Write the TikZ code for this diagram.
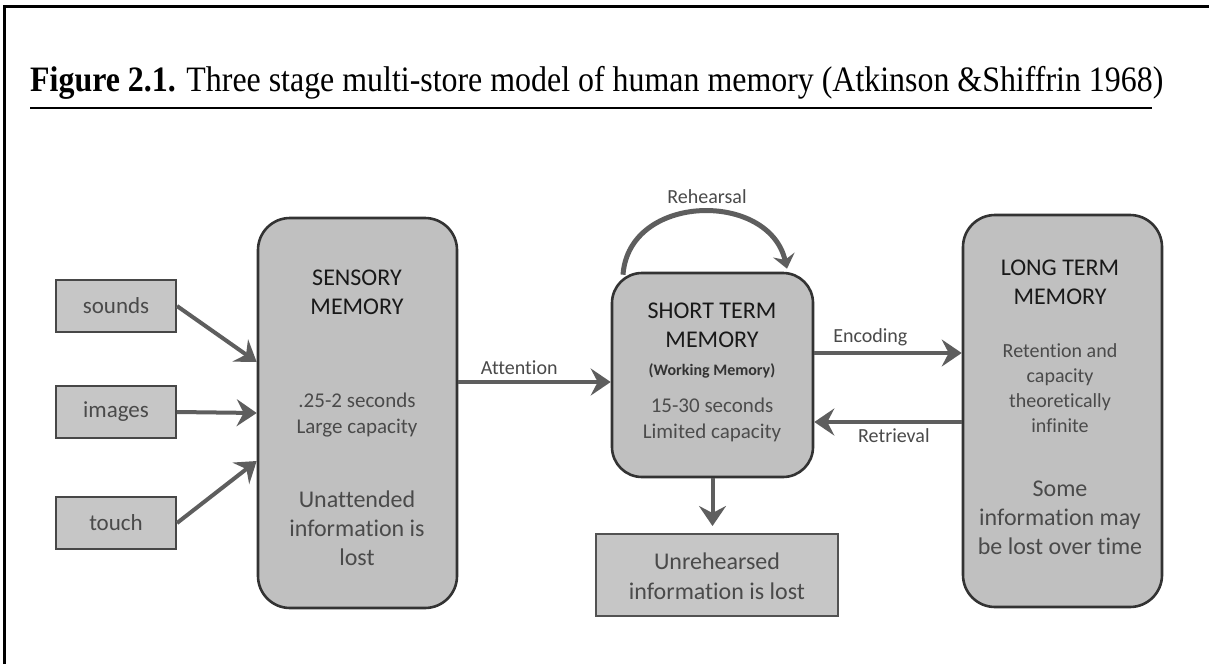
\documentclass[tikz,border=0pt]{standalone}
\usepackage{fontspec}
\setmainfont{Carlito}[Ligatures=NoCommon]
\newfontfamily\titlefont{Liberation Serif}
\usetikzlibrary{arrows.meta}
\definecolor{boxfill}{HTML}{C0C0C0}
\definecolor{smallfill}{HTML}{C6C6C6}
\definecolor{boxline}{HTML}{333333}
\definecolor{arrowgray}{HTML}{5E5E5E}
\definecolor{textgray}{HTML}{4A4A4A}
\tikzset{
  bigbox/.style={draw=boxline, fill=boxfill, line width=2.6pt, rounded corners=32pt, inner sep=0pt},
  inbox/.style={draw=boxline!90, fill=smallfill, line width=2pt, inner sep=0pt, minimum width=120pt, minimum height=52pt, font=\fontsize{23}{28}\selectfont, text=textgray},
  heading/.style={align=center, font=\fontsize{24}{29}\selectfont, text=black!90},
  graytext/.style={align=center, text=textgray},
  arr/.style={draw=arrowgray, line width=4pt, -{Stealth[length=20pt,width=27pt,inset=7pt]}},
  lbl/.style={font=\fontsize{20}{24}\selectfont, text=textgray, inner sep=3pt}
}
\begin{document}
\begin{tikzpicture}[x=1pt,y=-1pt]
\useasboundingbox (0,0) rectangle (1209,664);
\fill[white] (0,0) rectangle (1209,664);
% frame
\draw[line width=3pt] (4,664) -- (4,6) -- (1209,6);
% title
\node[anchor=base west, inner sep=0pt] (title) at (30,91) {\scalebox{1}[1.12]{\resizebox{1133pt}{!}{\titlefont\fontsize{28}{32}\selectfont\textbf{Figure 2.1.} Three stage multi-store model of human memory (Atkinson \&Shiffrin 1968)}}};
\draw[line width=2.5pt] (30,108) -- (1152,108);

% boxes
\node[bigbox, minimum width=199pt, minimum height=390pt] (sens) at (357.5,413) {};
\node[bigbox, minimum width=201pt, minimum height=204pt, rounded corners=30pt] (stm) at (712.5,375) {};
\node[bigbox, minimum width=199pt, minimum height=392pt] (ltm) at (1062.5,411) {};
\node[draw=boxline!85, fill=smallfill, line width=2pt, inner sep=0pt, minimum width=242pt, minimum height=82pt] (unr) at (717,575) {};

\node[inbox] (sounds) at (116,306) {sounds};
\node[inbox] (images) at (116,412) {images};
\node[inbox] (touch) at (116,523) {touch};

% texts in sensory
\node[heading] (senshead) at (357,292) {SENSORY\\MEMORY};
\node[graytext, font=\fontsize{21}{26}\selectfont] (senstime) at (357,415) {.25-2 seconds\\Large capacity};
\node[graytext, font=\fontsize{24}{29}\selectfont] (senslost) at (357,528) {Unattended\\information is\\lost};

% texts in STM
\node[heading] (stmhead) at (712,325) {SHORT TERM\\MEMORY};
\node[font=\bfseries\fontsize{16}{19}\selectfont, text=black!80] (stmwork) at (712,371) {(Working Memory)};
\node[graytext, font=\fontsize{21}{26}\selectfont, text=black!70] (stmtime) at (712,420) {15-30 seconds\\Limited capacity};

% texts in LTM
\node[heading] (ltmhead) at (1060,282) {LONG TERM\\MEMORY};
\node[graytext, font=\fontsize{20}{25}\selectfont] (ltmret) at (1060,388) {Retention and\\capacity\\theoretically\\infinite};
\node[graytext, font=\fontsize{24}{29}\selectfont] (ltmlost) at (1060,518) {Some\\information may\\be lost over time};

% unrehearsed text
\node[graytext, font=\fontsize{24}{30}\selectfont] (unrtext) at (717,576) {Unrehearsed\\information is lost};

% input arrows
\draw[arr] (sounds.east) -- ([yshift=51pt]sens.west);
\draw[arr] (images.east) -- (sens.west);
\draw[arr] (touch.east) -- ([yshift=-48pt]sens.west);

% attention
\coordinate (attend) at ([yshift=-7pt]stm.west);
\draw[arr] (sens.east |- attend) -- (attend) node[lbl, pos=0.4, above=2pt] {Attention};

% encoding / retrieval
\coordinate (encstart) at ([yshift=22pt]stm.east);
\draw[arr] (encstart) -- (ltm.west |- encstart) node[lbl, pos=0.38, above=2pt] {Encoding};
\coordinate (retend) at ([yshift=-47pt]stm.east);
\draw[arr] (ltm.west |- retend) -- (retend) node[lbl, pos=0.46, below=2pt] {Retrieval};

% down arrow
\draw[arr, shorten >=7pt] (stm.south) -- (stm.south |- unr.north);

% rehearsal
\coordinate (rs) at ([xshift=-89.5pt, yshift=-3pt]stm.north);
\coordinate (re) at ([xshift=74.5pt, yshift=3pt]stm.north);
\draw[draw=arrowgray, line width=5pt, -{Stealth[length=14pt,width=22pt,inset=5pt]}] (rs) .. controls +(6,-82) and +(-18,-78) .. (re);
\node[lbl] (reh) at (707,197) {Rehearsal};
\end{tikzpicture}
\end{document}
